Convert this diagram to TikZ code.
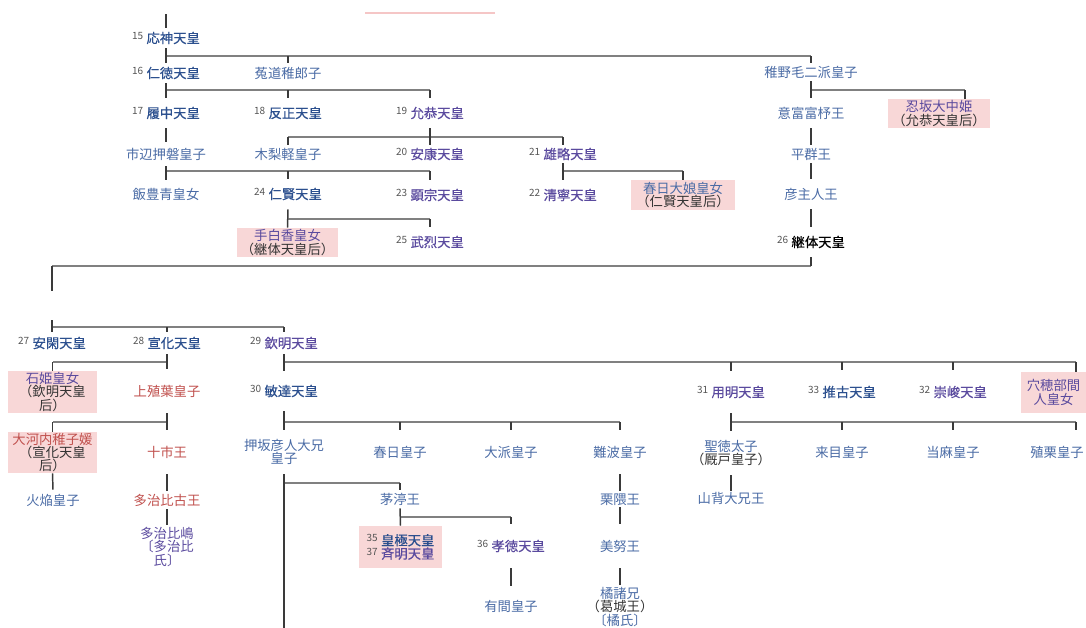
\documentclass[tikz,border=0pt]{standalone}
\usepackage{fontspec}
\setmainfont{Noto Sans CJK JP}
\newfontfamily\cjkb[FakeBold=0.5]{Noto Sans CJK JP}
\definecolor{eblue}{HTML}{2B4F8E}
\definecolor{vpurple}{HTML}{5A4A9E}
\definecolor{nblue}{HTML}{4A6BA5}
\definecolor{rred}{HTML}{C0504D}
\definecolor{boxpink}{HTML}{F8D7D7}
\definecolor{numgray}{HTML}{555555}
\definecolor{dk}{HTML}{333333}
\definecolor{hlgray}{HTML}{808080}
\definecolor{vlgray}{HTML}{3A3A3A}
\definecolor{artpink}{HTML}{F5C6C6}
\newcommand{\tn}[2]{{\normalfont\fontsize{7.5}{7.5}\selectfont\color{numgray}\raisebox{2.6pt}{#1}}\hspace{2.5pt}#2}
\tikzset{
  every node/.style={inner sep=0pt},
  nm/.style={font=\fontsize{10}{10.5}\selectfont, text=nblue, text height=7.6pt, text depth=0pt, minimum height=18pt},
  hh/.style={minimum height=#1*1.5pt},
  emp/.style={nm, font=\cjkb\fontsize{10}{10.5}\selectfont, text=eblue},
  vis/.style={emp, text=vpurple},
  rd/.style={nm, text=rred},
  ml/.style={font=\fontsize{10}{10.3}\selectfont, text=nblue, align=center},
  pbox/.style={fill=boxpink, align=center, font=\fontsize{10}{10}\selectfont, text=dk},
  bx/.style 2 args={minimum width=#1*0.75pt, minimum height=#2*0.75pt},
  hl/.style={draw=hlgray, line width=1.1pt},
  vl/.style={draw=vlgray, line width=1.1pt},
}
\begin{document}
\begin{tikzpicture}[x=0.75pt,y=-0.75pt]
\useasboundingbox (0,0) rectangle (1086,628);
\draw[draw=artpink, line width=1pt] (365,13) -- (495,13);
% nodes
\node[emp,hh=10] (ojin) at (166,38) {\tn{15}{応神天皇}};
\node[emp,hh=10] (nintoku) at (166,73) {\tn{16}{仁徳天皇}};
\node[nm,hh=10] (uji) at (288,73) {菟道稚郎子};
\node[nm,hh=9] (wakanuke) at (811,72) {稚野毛二派皇子};
\node[emp,hh=15] (richu) at (166,113) {\tn{17}{履中天皇}};
\node[emp,hh=15] (hanzei) at (288,113) {\tn{18}{反正天皇}};
\node[vis,hh=15] (ingyo) at (430,113) {\tn{19}{允恭天皇}};
\node[nm,hh=15] (ohodo) at (811,113) {意富富杼王};
\node[pbox,bx={102}{29}] (oshisaka) at (939,113.5) {\textcolor{vpurple}{忍坂大中姫}\\（允恭天皇后）};
\node[nm,hh=12] (ichinobe) at (166,154) {市辺押磐皇子};
\node[nm,hh=9] (kinashi) at (288,154) {木梨軽皇子};
\node[vis,hh=9] (anko) at (430,154) {\tn{20}{安康天皇}};
\node[vis,hh=9] (yuryaku) at (563,154) {\tn{21}{雄略天皇}};
\node[nm,hh=9] (heguri) at (811,154) {平群王};
\node[nm,hh=14] (iitoyo) at (166,194) {飯豊青皇女};
\node[emp,hh=15] (ninken) at (288,194) {\tn{24}{仁賢天皇}};
\node[vis,hh=15] (kenzo) at (430,195) {\tn{23}{顕宗天皇}};
\node[vis,hh=15] (seinei) at (563,195) {\tn{22}{清寧天皇}};
\node[pbox,bx={104}{30}] (kasuga) at (683,195) {\textcolor{nblue}{春日大娘皇女}\\（仁賢天皇后）};
\node[nm,hh=15] (hikoushi) at (811,194) {彦主人王};
\node[pbox,bx={101}{29}] (tashiraka) at (287.5,242.5) {\textcolor{vpurple}{手白香皇女}\\（継体天皇后）};
\node[vis,hh=15] (buretsu) at (430,242) {\tn{25}{武烈天皇}};
\node[emp,text=black,hh=15] (keitai) at (811,242) {\tn{26}{継体天皇}};
\node[emp,hh=11] (ankan) at (52,343) {\tn{27}{安閑天皇}};
\node[emp,hh=11] (senka) at (167,343) {\tn{28}{宣化天皇}};
\node[vis,hh=11] (kinmei) at (284,343) {\tn{29}{欽明天皇}};
\node[pbox,bx={89}{42}] (ishihime) at (52.5,392) {\textcolor{vpurple}{石姫皇女}\\（欽明天皇\\后）};
\node[rd,hh=22] (kamiue) at (167,391) {上殖葉皇子};
\node[emp,hh=20] (bidatsu) at (284,391) {\tn{30}{敏達天皇}};
\node[vis,hh=21] (yomei) at (731,392) {\tn{31}{用明天皇}};
\node[emp,hh=22] (suiko) at (842,392) {\tn{33}{推古天皇}};
\node[vis,hh=22] (sushun) at (953,392) {\tn{32}{崇峻天皇}};
\node[pbox,bx={65}{41},text=vpurple] (anahobe) at (1053.5,392.5) {穴穂部間\\人皇女};
\node[pbox,bx={89}{41}] (okochi) at (52.5,452.5) {\textcolor{rred}{大河内稚子媛}\\（宣化天皇\\后）};
\node[rd,hh=22] (toichi) at (167,452) {十市王};
\node[ml,hh=22] (hikohito) at (284,452) {押坂彦人大兄\\皇子};
\node[nm,hh=22] (kasugaoji) at (400,452) {春日皇子};
\node[nm,hh=22] (ounata) at (511,452) {大派皇子};
\node[nm,hh=22] (naniwa) at (620,452) {難波皇子};
\node[ml,hh=22] (shotoku) at (731,453) {聖徳太子\\\textcolor{dk}{（厩戸皇子）}};
\node[nm,hh=22] (kume) at (842,452) {来目皇子};
\node[nm,hh=22] (taima) at (953,452) {当麻皇子};
\node[nm,hh=22] (ekuri) at (1057,452) {殖栗皇子};
\node[nm,hh=10] (hoomura) at (53,500) {火焔皇子};
\node[rd,hh=9] (tajihiko) at (167,500) {多治比古王};
\node[nm,hh=9] (chinu) at (400,499) {茅渟王};
\node[nm,hh=8] (kurikuma) at (620,499) {栗隈王};
\node[nm,hh=7] (yamashiro) at (731,498) {山背大兄王};
\node[ml,hh=22,text=vpurple] (tajihishima) at (167,547) {多治比嶋\\〔多治比\\氏〕};
\node[pbox,bx={83}{42}] (kogyoku) at (400.5,547) {\tn{35}{\textcolor{eblue}{\cjkb 皇極天皇}}\\\tn{37}{\textcolor{vpurple}{\cjkb 斉明天皇}}};
\node[vis,hh=22] (kotoku) at (511,546) {\tn{36}{孝徳天皇}};
\node[nm,hh=22] (minu) at (620,546) {美努王};
\node[nm,hh=20] (arima) at (511,606) {有間皇子};
\node[ml,hh=22] (tachibana) at (620,607) {橘諸兄\\\textcolor{dk}{（葛城王）}\\〔橘氏〕};
% coordinates
\coordinate (top0) at (166,14);
\coordinate (b1) at (0,56);
\coordinate (b2) at (0,90);
\coordinate (b3) at (0,137);
\coordinate (b4) at (0,171);
\coordinate (b5) at (0,219);
\coordinate (b6) at (0,266);
\coordinate (b7) at (0,327);
\coordinate (b8) at (0,362);
\coordinate (b9) at (0,422);
\coordinate (b10) at (0,483);
\coordinate (b11) at (0,517);
\coordinate (t965) at (965,0);
\coordinate (t1076) at (1076,0);
\coordinate (x52) at (52,0);
\coordinate (brk1) at (52,291);
\coordinate (brk2) at (52,320);
\coordinate (bot) at (284,628);
% horizontal bars
\draw[hl] (ojin |- b1) -- (wakanuke |- b1);
\draw[hl] (nintoku |- b2) -- (ingyo |- b2);
\draw[hl] (wakanuke |- b2) -- (t965 |- b2);
\draw[hl] (kinashi |- b3) -- (yuryaku |- b3);
\draw[hl] (ichinobe |- b4) -- (kenzo |- b4);
\draw[hl] (yuryaku |- b4) -- (kasuga |- b4);
\draw[hl] (ninken |- b5) -- (buretsu |- b5);
\draw[hl] (keitai |- b6) -- (x52 |- b6);
\draw[hl] (ankan |- b7) -- (kinmei |- b7);
\draw[hl] (senka |- b8) -- (ishihime |- b8);
\draw[hl] (kinmei |- b8) -- (t1076 |- b8);
\draw[hl] (kamiue |- b9) -- (okochi |- b9);
\draw[hl] (bidatsu |- b9) -- (naniwa |- b9);
\draw[hl] (yomei |- b9) -- (t1076 |- b9);
\draw[hl] (hikohito |- b10) -- (chinu |- b10);
\draw[hl] (chinu |- b11) -- (kotoku |- b11);
% verticals
\draw[vl] (top0) -- (ojin.north);
\draw[vl] (ojin.south) -- (nintoku.north);
\draw[vl] (uji |- b1) -- (uji.north);
\draw[vl] (wakanuke |- b1) -- (wakanuke.north);
\draw[vl] (nintoku.south) -- (richu.north);
\draw[vl] (hanzei |- b2) -- (hanzei.north);
\draw[vl] (ingyo |- b2) -- (ingyo.north);
\draw[vl] (wakanuke.south) -- (ohodo.north);
\draw[vl] (t965 |- b2) -- (t965 |- oshisaka.north);
\draw[vl] (richu.south) -- (ichinobe.north);
\draw[vl] (ingyo.south) -- (anko.north);
\draw[vl] (kinashi |- b3) -- (kinashi.north);
\draw[vl] (yuryaku |- b3) -- (yuryaku.north);
\draw[vl] (ohodo.south) -- (heguri.north);
\draw[vl] (ichinobe.south) -- (iitoyo.north);
\draw[vl] (ninken |- b4) -- (ninken.north);
\draw[vl] (kenzo |- b4) -- (kenzo.north);
\draw[vl] (yuryaku.south) -- (seinei.north);
\draw[vl] (kasuga |- b4) -- (kasuga.north);
\draw[vl] (heguri.south) -- (hikoushi.north);
\draw[vl] (ninken.south) -- (tashiraka.north);
\draw[vl] (buretsu |- b5) -- (buretsu.north);
\draw[vl] (hikoushi.south) -- (keitai.north);
\draw[vl] (keitai.south) -- (keitai |- b6);
\draw[vl] (x52 |- b6) -- (brk1);
\draw[vl] (brk2) -- (ankan.north);
\draw[vl] (senka |- b7) -- (senka.north);
\draw[vl] (kinmei |- b7) -- (kinmei.north);
\draw[vl] (senka.south) -- (kamiue.north);
\draw[vl] (ishihime |- b8) -- (ishihime.north);
\draw[vl] (kinmei.south) -- (bidatsu.north);
\draw[vl] (yomei |- b8) -- (yomei.north);
\draw[vl] (suiko |- b8) -- (suiko.north);
\draw[vl] (sushun |- b8) -- (sushun.north);
\draw[vl] (t1076 |- b8) -- (t1076 |- anahobe.north);
\draw[vl] (kamiue.south) -- (toichi.north);
\draw[vl] (okochi |- b9) -- (okochi.north);
\draw[vl] (bidatsu.south) -- (hikohito.north);
\draw[vl] (kasugaoji |- b9) -- (kasugaoji.north);
\draw[vl] (ounata |- b9) -- (ounata.north);
\draw[vl] (naniwa |- b9) -- (naniwa.north);
\draw[vl] (yomei.south) -- (shotoku.north);
\draw[vl] (kume |- b9) -- (kume.north);
\draw[vl] (taima |- b9) -- (taima.north);
\draw[vl] (t1076 |- b9) -- (t1076 |- ekuri.north);
\draw[vl] (okochi.south) -- (hoomura.north);
\draw[vl] (toichi.south) -- (tajihiko.north);
\draw[vl] (hikohito.south) -- (bot);
\draw[vl] (chinu |- b10) -- (chinu.north);
\draw[vl] (naniwa.south) -- (kurikuma.north);
\draw[vl] (shotoku.south) -- (yamashiro.north);
\draw[vl] (tajihiko.south) -- (tajihishima.north);
\draw[vl] (chinu.south) -- (kogyoku.north);
\draw[vl] (kotoku |- b11) -- (kotoku.north);
\draw[vl] (kurikuma.south) -- (minu.north);
\draw[vl] (kotoku.south) -- (arima.north);
\draw[vl] (minu.south) -- (tachibana.north);
\end{tikzpicture}
\end{document}
